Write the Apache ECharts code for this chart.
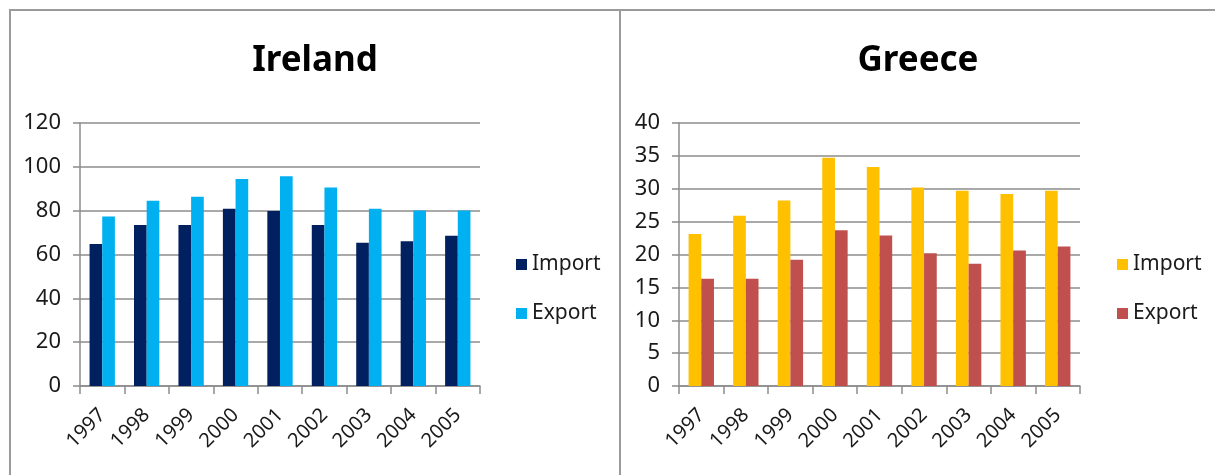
<!DOCTYPE html>
<html>
<head>
<meta charset="utf-8">
<script src="https://cdn.jsdelivr.net/npm/echarts@6/dist/echarts.min.js"></script>
<style>
  html, body { margin: 0; padding: 0; background: #ffffff; width: 1215px; height: 475px; overflow: hidden; }
  .panel { position: absolute; }
  .line { position: absolute; background: #9a9a9a; }
</style>
</head>
<body>
<div class="line" style="left:9px;top:9px;width:1206px;height:2px;"></div>
<div class="line" style="left:9px;top:9px;width:2px;height:466px;"></div>
<div class="line" style="left:619px;top:9px;width:2px;height:466px;"></div>
<div id="ireland" class="panel" style="left:11px;top:11px;width:608px;height:464px;"></div>
<div id="greece" class="panel" style="left:621px;top:11px;width:594px;height:464px;"></div>
<script>
// Years shown on both category axes
const years = ['1997', '1998', '1999', '2000', '2001', '2002', '2003', '2004', '2005'];

// Ireland trade values
const irelandImport = [64.8, 73.5, 73.5, 80.9, 79.8, 73.5, 65.4, 66.0, 68.6];
const irelandExport = [77.3, 84.5, 86.4, 94.4, 95.7, 90.6, 80.9, 80.1, 80.1];

// Greece trade values
const greeceImport = [23.1, 25.9, 28.2, 34.7, 33.3, 30.2, 29.7, 29.2, 29.7];
const greeceExport = [16.3, 16.3, 19.2, 23.7, 22.9, 20.2, 18.6, 20.6, 21.2];

const FONT = '"Noto Sans", "Open Sans", sans-serif';
const GRID_COLOR = '#8c8c8c';

function panelOption(cfg) {
  return {
    animation: false,
    backgroundColor: '#ffffff',
    title: {
      text: cfg.title,
      left: 'center',
      top: 28,
      textStyle: { fontFamily: FONT, fontSize: 35, fontWeight: 'bold', color: '#000000' }
    },
    legend: {
      orient: 'vertical',
      left: cfg.legendLeft,
      top: 238,
      itemWidth: 11,
      itemHeight: 11,
      itemGap: 28,
      icon: 'rect',
      textStyle: { fontFamily: FONT, fontSize: 21, color: '#1a1a1a' },
      data: ['Import', 'Export']
    },
    grid: { left: cfg.gridLeft, top: 112, width: cfg.gridWidth, height: 263, containLabel: false },
    xAxis: {
      type: 'category',
      data: years,
      boundaryGap: true,
      axisLine: { show: true, lineStyle: { color: GRID_COLOR, width: 1.5 } },
      axisTick: { show: true, length: 8, alignWithLabel: false, lineStyle: { color: GRID_COLOR, width: 1.5 } },
      axisLabel: { rotate: 45, margin: 26, fontFamily: FONT, fontSize: 20, color: '#1a1a1a', interval: 0 }
    },
    yAxis: {
      type: 'value',
      min: 0,
      max: cfg.max,
      interval: cfg.interval,
      axisLine: { show: true, lineStyle: { color: GRID_COLOR, width: 1.5 } },
      axisTick: { show: true, inside: false, length: 7, lineStyle: { color: GRID_COLOR, width: 1.5 } },
      splitLine: { show: true, lineStyle: { color: GRID_COLOR, width: 1.5 } },
      axisLabel: { margin: 19, fontFamily: FONT, fontSize: 22, color: '#1a1a1a' }
    },
    series: [
      { name: 'Import', type: 'bar', data: cfg.imp, itemStyle: { color: cfg.impColor },
        barGap: '0%', barCategoryGap: '43%' },
      { name: 'Export', type: 'bar', data: cfg.exp, itemStyle: { color: cfg.expColor },
        barGap: '0%', barCategoryGap: '43%' }
    ]
  };
}

const irelandChart = echarts.init(document.getElementById('ireland'), null, { renderer: 'canvas' });
irelandChart.setOption(panelOption({
  title: 'Ireland', max: 120, interval: 20,
  gridLeft: 69, gridWidth: 400, legendLeft: 500,
  imp: irelandImport, exp: irelandExport,
  impColor: '#002060', expColor: '#00b0f0'
}));

const greeceChart = echarts.init(document.getElementById('greece'), null, { renderer: 'canvas' });
greeceChart.setOption(panelOption({
  title: 'Greece', max: 40, interval: 5,
  gridLeft: 58, gridWidth: 401, legendLeft: 491,
  imp: greeceImport, exp: greeceExport,
  impColor: '#ffc000', expColor: '#c0504d'
}));
</script>
</body>
</html>
